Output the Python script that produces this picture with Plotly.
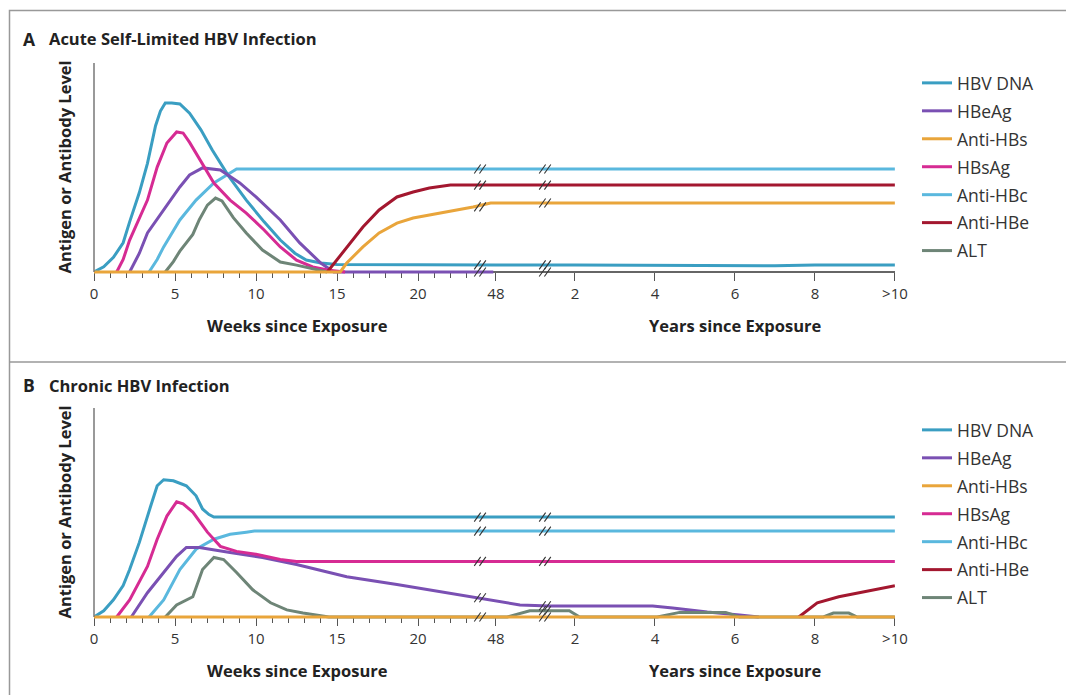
import numpy as np
import plotly.graph_objects as go

W, H = 1066, 695

# ---------------- data (x = weeks since exposure; long-term part in weeks = years*52) ----------------
week_ticks = [0, 5, 10, 15, 20, 48]
week_tick_text = ["0", "5", "10", "15", "20", "48"]
week_minor_ticks = [1, 2, 3, 4, 6, 7, 8, 9, 11, 12, 13, 14, 16, 17, 18, 19, 21, 22, 23]
year_ticks = [2, 4, 6, 8, 10]
year_tick_text = ["2", "4", "6", "8", ">10"]

series_names = ["HBV DNA", "HBeAg", "Anti-HBs", "HBsAg", "Anti-HBc", "Anti-HBe", "ALT"]
series_colors = ["#3a9ec2", "#7a50b3", "#e9a53b", "#d62b93", "#5ab8de", "#a3172f", "#6e8577"]

# Panel A: acute self-limited infection
a_hbvdna_x = [0, 0.6, 1.2, 1.8, 2.2, 2.8, 3.3, 3.8, 4.1, 4.4, 4.8, 5.3, 5.9, 6.6, 7.3, 8.3, 9.4, 10.5, 11.5, 12.4, 13.1, 14.0, 15.0, 20, 48, 104, 260, 300, 364, 416, 520]
a_hbvdna_y = [0, 2.5, 7, 14, 24, 38, 52, 70, 77, 80.9, 80.9, 80.4, 76, 68, 58.4, 46, 34.4, 24, 15.3, 9, 5.7, 4.3, 3.6, 3.4, 3.4, 3.4, 3.2, 2.8, 3.0, 3.4, 3.4]
a_hbeag_x = [2.2, 2.8, 3.3, 4.3, 5.3, 5.9, 6.7, 7.8, 9.0, 10.0, 11.5, 12.7, 14.0, 14.8, 44]
a_hbeag_y = [0, 9, 18.7, 29.7, 40.7, 46.4, 49.8, 48.8, 42.6, 35.9, 24.9, 13.9, 4.3, 0, 0]
a_antihbs_x = [0, 15.2, 15.6, 16.6, 17.6, 18.7, 19.7, 21.8, 23.4, 40, 520]
a_antihbs_y = [0, 0, 4.3, 12.0, 18.7, 23.4, 25.8, 28.7, 31.1, 33.0, 33.0]
a_hbsag_x = [1.4, 1.8, 2.2, 2.8, 3.3, 3.9, 4.5, 5.1, 5.5, 5.9, 6.3, 6.9, 7.4, 8.4, 9.4, 10.5, 11.5, 12.5, 13.5, 14.5, 15.5]
a_hbsag_y = [0, 6, 15.3, 26, 34.4, 50.2, 61.7, 67.0, 66.5, 62, 56.9, 49, 42.6, 34.4, 28.2, 20.1, 12.0, 5.7, 2.4, 0.8, 0]
a_antihbc_x = [3.4, 3.9, 4.3, 5.3, 6.3, 7.4, 8.2, 8.8, 520]
a_antihbc_y = [0, 6, 12.0, 24.9, 34.4, 42.6, 46.4, 49.3, 49.3]
a_antihbe_x = [14.4, 15.0, 15.6, 16.6, 17.6, 18.7, 19.7, 20.7, 22.0, 520]
a_antihbe_y = [0, 6, 12, 21.5, 29.7, 35.9, 38.3, 40.2, 41.6, 41.6]
a_alt_x = [4.4, 4.9, 5.3, 6.1, 6.5, 7.0, 7.5, 7.9, 8.6, 9.4, 10.4, 11.5, 12.5, 13.5, 14.4]
a_alt_y = [0, 5, 10, 18, 25, 32, 35.4, 34, 26, 18.7, 10.5, 4.8, 3.3, 1.4, 0]

# Panel B: chronic infection
b_hbvdna_x = [0, 0.6, 1.2, 1.8, 2.2, 2.8, 3.5, 3.9, 4.3, 4.9, 5.7, 6.3, 6.7, 7.1, 7.4, 520]
b_hbvdna_y = [0, 3, 8.2, 15, 22.7, 35.7, 53.1, 62.8, 65.7, 65.2, 62.8, 58.0, 51.7, 49, 47.8, 47.8]
b_hbeag_x = [2.3, 3.3, 4.3, 5.1, 5.7, 6.5, 8.4, 10.4, 12.5, 15.6, 18.7, 21.8, 23.8, 48, 65, 86, 205, 231, 276, 318, 343]
b_hbeag_y = [0, 11.6, 21.3, 29.0, 33.3, 33.3, 30.9, 28.5, 25.1, 19.3, 15.5, 11.6, 9.2, 7.7, 5.8, 5.3, 5.3, 4.3, 2.4, 1.0, 0]
b_antihbs_x = [0, 520]
b_antihbs_y = [0, 0]
b_hbsag_x = [1.4, 2.2, 3.3, 3.9, 4.5, 5.1, 5.5, 6.1, 7.0, 7.8, 8.8, 10, 11.5, 12.5, 520]
b_hbsag_y = [0, 8.2, 24.2, 37.2, 48.3, 55.1, 54.1, 50.2, 40.6, 33.8, 31.4, 30.0, 27.5, 26.6, 26.6]
b_antihbc_x = [3.4, 4.3, 5.3, 6.3, 7.4, 8.4, 9.4, 9.9, 520]
b_antihbc_y = [0, 8.2, 22.7, 32.4, 37.2, 39.6, 40.6, 41.1, 41.1]
b_antihbe_x = [395, 419, 447, 473, 520]
b_antihbe_y = [0, 6.8, 9.7, 11.6, 15.0]
b_alt_x = [4.4, 5.1, 6.1, 6.7, 7.4, 8.0, 8.8, 9.8, 10.9, 11.9, 12.9, 14, 14.5, 56, 72, 100, 110, 211, 240, 300, 318, 427, 440, 460, 471, 520]
b_alt_y = [0, 5.8, 9.7, 22.7, 28.5, 27.5, 21.3, 13.0, 6.8, 3.4, 1.9, 0.5, 0, 0, 3.0, 3.0, 0, 0, 2.2, 2.2, 0, 0, 1.9, 1.9, 0, 0]

panel_a = [(a_hbvdna_x, a_hbvdna_y), (a_hbeag_x, a_hbeag_y), (a_antihbs_x, a_antihbs_y),
           (a_hbsag_x, a_hbsag_y), (a_antihbc_x, a_antihbc_y), (a_antihbe_x, a_antihbe_y),
           (a_alt_x, a_alt_y)]
panel_b = [(b_hbvdna_x, b_hbvdna_y), (b_hbeag_x, b_hbeag_y), (b_antihbs_x, b_antihbs_y),
           (b_hbsag_x, b_hbsag_y), (b_antihbc_x, b_antihbc_y), (b_antihbe_x, b_antihbe_y),
           (b_alt_x, b_alt_y)]

# ---------------- broken time scale (weeks -> axis units) ----------------
SCALE_WEEKS = [0, 23.83, 48, 104, 520]
SCALE_UNITS = [0, 23.83, 24.81, 29.69, 49.44]
BREAK_UNITS = [23.83, 27.84]


def pos(weeks):
    return np.interp(np.asarray(weeks, dtype=float), SCALE_WEEKS, SCALE_UNITS)


def unpos(units):
    return float(np.interp(units, SCALE_UNITS, SCALE_WEEKS))


PX_X = 16.2   # px per axis unit
PX_Y = 2.09   # px per level unit
X0_PX = 94
FONT = "Open Sans"
TXT = "#222222"
X_MAX = float(pos(520))

fig = go.Figure()

# trace drawing order (z-order); legend order from legendrank
draw_order = [4, 0, 1, 3, 6, 5, 2]

panels = [
    dict(data=panel_a, xa="x", ya="y", leg="legend", base=272, tag="A"),
    dict(data=panel_b, xa="x2", ya="y2", leg="legend2", base=617, tag="B"),
]

for p in panels:
    for i in draw_order:
        xs, ys = p["data"][i]
        fig.add_trace(go.Scatter(
            x=pos(xs), y=ys, mode="lines", name=series_names[i],
            line=dict(color=series_colors[i], width=3),
            xaxis=p["xa"], yaxis=p["ya"], legend=p["leg"],
            legendgroup=p["tag"] + series_names[i], legendrank=i + 1,
            hoverinfo="skip",
        ))

tickvals = list(pos(week_ticks)) + list(pos([52 * y for y in year_ticks]))
ticktext = week_tick_text + year_tick_text


def xaxis_cfg(base_px):
    left = X0_PX
    right = X0_PX + X_MAX * PX_X
    return dict(
        domain=[left / W, right / W], range=[0, X_MAX], anchor="free",
        position=1 - base_px / H, showgrid=False, zeroline=False,
        showline=True, linecolor="#666", linewidth=1.5, layer="below traces",
        ticks="outside", ticklen=8, tickwidth=1.3, tickcolor="#555",
        tickvals=tickvals, ticktext=ticktext, ticklabelstandoff=0,
        tickfont=dict(family=FONT, size=15, color="#333"),
        minor=dict(tickvals=list(pos(week_minor_ticks)), ticks="outside", ticklen=5,
                   tickwidth=1.1, tickcolor="#555"),
        fixedrange=True, automargin=False,
    )


def yaxis_cfg(base_px):
    bottom = base_px + 4 * PX_Y
    top = base_px - 102 * PX_Y
    return dict(domain=[1 - bottom / H, 1 - top / H], range=[-4, 102], visible=False,
                fixedrange=True)


shapes = []
annotations = []

for p in panels:
    xa, ya = p["xa"], p["ya"]
    # vertical axis line
    shapes.append(dict(type="line", xref="paper", yref=ya, x0=X0_PX / W, x1=X0_PX / W,
                       y0=0, y1=100, line=dict(color="#777", width=1.5), layer="above"))
    # break marks "//" on every line crossing a break
    for bu in BREAK_UNITS:
        bw = unpos(bu)
        levels = [0.0]
        for xs, ys in p["data"]:
            if xs[0] <= bw <= xs[-1]:
                lv = float(np.interp(bw, xs, ys))
                if all(abs(lv - l) > 1.5 for l in levels):
                    levels.append(lv)
        for lv in levels:
            for off in (-2.6, 2.6):
                cx = bu + off / PX_X
                shapes.append(dict(type="line", xref=xa, yref=ya,
                                   x0=cx - 3.2 / PX_X, y0=lv - 4.5 / PX_Y,
                                   x1=cx + 3.2 / PX_X, y1=lv + 4.5 / PX_Y,
                                   line=dict(color="#333", width=1.1), layer="above"))

# frame
shapes.append(dict(type="rect", xref="paper", yref="paper", x0=9.5 / W, x1=1.05,
                   y0=-0.05, y1=1 - 10.5 / H, line=dict(color="#999", width=1.5)))
shapes.append(dict(type="line", xref="paper", yref="paper", x0=9.5 / W, x1=1.05,
                   y0=1 - 362 / H, y1=1 - 362 / H, line=dict(color="#999", width=1.5)))


def ann(text, xpx, ypx, size, bold=False, xanchor="left", angle=0):
    annotations.append(dict(
        text=f"<b>{text}</b>" if bold else text, xref="paper", yref="paper",
        x=xpx / W, y=1 - ypx / H, xanchor=xanchor, yanchor="middle",
        showarrow=False, textangle=angle, font=dict(family=FONT, size=size, color=TXT)))


ann("A", 21, 38.5, 17.5, bold=True)
ann("Acute Self-Limited HBV Infection", 47, 38.5, 16.5, bold=True)
ann("B", 21, 385, 17.5, bold=True)
ann("Chronic HBV Infection", 47, 385, 16.5, bold=True)
for base in (272, 617):
    ann("Antigen or Antibody Level", 64, base - 104.5, 16.5, bold=True, xanchor="center", angle=-90)
    ann("Weeks since Exposure", 297, base + 53, 16.5, bold=True, xanchor="center")
    ann("Years since Exposure", 735, base + 53, 16.5, bold=True, xanchor="center")

legend_common = dict(x=917 / W, xanchor="left", yanchor="top", itemwidth=30,
                     tracegroupgap=2.2, bgcolor="rgba(0,0,0,0)",
                     font=dict(family=FONT, size=17.5, color="#333"))

fig.update_layout(
    width=W, height=H, autosize=False,
    margin=dict(l=0, r=0, t=0, b=0, pad=0, autoexpand=False),
    paper_bgcolor="white", plot_bgcolor="white",
    font=dict(family=FONT, color=TXT),
    xaxis=xaxis_cfg(272), yaxis=yaxis_cfg(272),
    xaxis2=xaxis_cfg(617), yaxis2=yaxis_cfg(617),
    legend=dict(y=1 - 65 / H, **legend_common),
    legend2=dict(y=1 - 412 / H, **legend_common),
    shapes=shapes, annotations=annotations,
    showlegend=True,
)

fig.write_html("out.html", config={"displayModeBar": False},
               post_script="document.body.style.margin='0px';document.body.style.overflow='hidden';")
